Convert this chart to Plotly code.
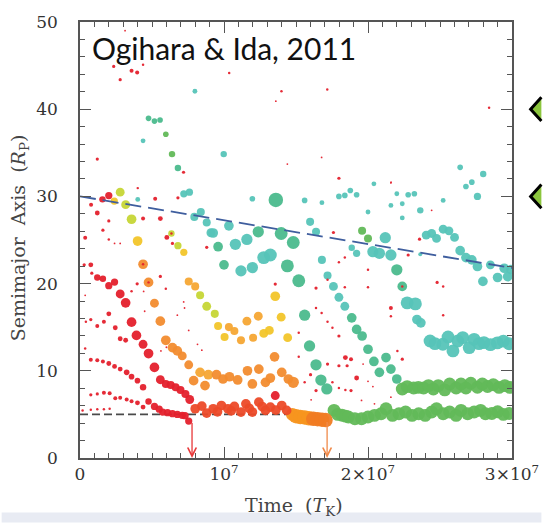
import numpy as np
import plotly.graph_objects as go

# ---------------- data (time in units of 1e6 T_K, semimajor axis in R_P, relative mass) -------------
red = [
    (3.13, 49.0, 0.0014), (2.34, 44.9, 0.011), (2.79, 43.38, 0.011), (3.58, 44.41, 0.021),
    (3.97, 44.22, 0.021), (4.38, 45.09, 0.005), (10.36, 44.14, 0.005), (1.2, 34.28, 0.011),
    (7.19, 32.77, 0.011), (5.22, 29.73, 0.021), (6.8, 29.84, 0.011), (2.0, 30.1, 0.125),
    (1.56, 29.66, 0.088), (0.77, 29.05, 0.021), (1.2, 28.1, 0.037), (2.0, 27.19, 0.011),
    (4.38, 27.46, 0.021), (5.58, 27.46, 0.037), (0.36, 25.26, 0.021), (1.59, 26.13, 0.011),
    (2.0, 25.07, 0.005), (2.4, 24.61, 0.0014), (2.79, 24.61, 0.0014), (6.03, 25.3, 0.037),
    (6.42, 24.61, 0.011), (8.8, 24.16, 0.011), (0.29, 22.15, 0.011), (0.75, 22.15, 0.037),
    (0.82, 21.2, 0.011), (1.2, 20.7, 0.088), (1.59, 20.55, 0.088), (2.0, 19.76, 0.125),
    (2.4, 20.17, 0.125), (3.97, 19.98, 0.011), (5.58, 20.82, 0.011), (5.96, 19.42, 0.005),
    (2.79, 18.81, 0.23), (3.17, 17.79, 0.30), (3.58, 19.11, 0.005), (0.36, 18.66, 0.0014),
    (3.58, 15.58, 0.30), (3.92, 14.06, 0.30), (4.38, 13.04, 0.23), (4.76, 11.98, 0.30),
    (5.17, 10.39, 0.30), (5.58, 8.98, 0.23), (5.96, 8.49, 0.17), (6.3, 8.38, 0.17),
    (6.64, 8.11, 0.17), (6.98, 7.81, 0.17), (7.32, 7.35, 0.17), (7.62, 6.71, 0.23),
    (0.41, 15.62, 0.005), (0.75, 15.88, 0.011), (1.2, 15.13, 0.021), (1.66, 15.62, 0.021),
    (2.0, 16.53, 0.037), (2.45, 14.94, 0.037), (2.79, 13.68, 0.037), (3.17, 13.5, 0.037),
    (0.36, 12.55, 0.005),
    (0.75, 11.26, 0.021), (1.2, 11.22, 0.021), (1.59, 11.07, 0.021), (2.0, 10.84, 0.037),
    (2.4, 10.5, 0.037), (2.79, 10.2, 0.037), (3.24, 9.82, 0.059), (3.58, 9.33, 0.059),
    (3.99, 8.87, 0.059), (4.38, 8.11, 0.088),
    (0.75, 7.24, 0.011), (1.2, 7.35, 0.011), (1.66, 7.47, 0.021), (2.06, 7.43, 0.021),
    (2.45, 6.86, 0.021), (2.79, 6.9, 0.021), (3.24, 6.71, 0.021), (3.58, 6.52, 0.021),
    (3.99, 6.33, 0.037), (4.38, 5.84, 0.037),
    (4.76, 6.48, 0.088), (5.17, 5.91, 0.125), (5.5, 5.6, 0.125), (5.74, 5.27, 0.125),
    (6.08, 5.19, 0.125), (6.42, 5.08, 0.125), (6.76, 5.0, 0.125), (7.1, 4.89, 0.125),
    (7.3, 4.85, 0.125), (7.55, 4.24, 0.125),
    (0.18, 5.45, 0.005), (0.75, 5.53, 0.005), (1.2, 5.6, 0.005), (1.66, 5.6, 0.005), (2.06, 5.64, 0.005),
    (6.76, 16.38, 0.0014), (7.55, 14.63, 0.0014), (8.16, 13.04, 0.0014), (8.46, 12.36, 0.0014),
    (5.62, 12.28, 0.0014), (4.49, 16.83, 0.0014), (7.2, 17.9, 0.0014), (7.26, 17.2, 0.0014),
    (6.0, 12.7, 0.0014), (4.42, 19.1, 0.0014),
    (13.56, 7.16, 0.23),
    (16.39, 17.2, 0.005), (16.78, 16.64, 0.005), (17.19, 15.62, 0.005), (17.53, 14.94, 0.005),
    (17.98, 13.99, 0.011), (15.19, 14.37, 0.005), (15.19, 11.6, 0.005), (16.01, 9.55, 0.011),
    (15.6, 8.68, 0.005), (16.05, 6.67, 0.0014), (16.39, 7.73, 0.011), (17.19, 10.77, 0.011),
    (17.98, 10.58, 0.011), (18.43, 11.52, 0.037), (18.55, 10.58, 0.011), (17.53, 8.68, 0.005),
    (18.43, 7.81, 0.005), (17.98, 8.03, 0.005),
    (21.59, 17.21, 0.021), (21.59, 16.26, 0.005), (25.22, 16.38, 0.005), (18.82, 11.33, 0.021),
    (19.21, 9.17, 0.037), (18.82, 7.73, 0.011), (22.38, 11.33, 0.011), (22.04, 12.28, 0.005),
    (19.66, 10.77, 0.0014), (20.0, 8.79, 0.0014), (20.34, 8.19, 0.0014), (20.45, 6.21, 0.0014),
    (19.55, 6.6, 0.0014), (21.59, 6.97, 0.0014),
    (17.98, 32.08, 0.011), (17.6, 25.86, 0.011), (18.39, 22.98, 0.005), (17.98, 22.45, 0.005),
    (13.56, 19.95, 0.011), (16.39, 19.49, 0.011), (17.19, 20.44, 0.005), (18.39, 19.57, 0.005),
    (21.59, 31.55, 0.0014), (24.42, 28.4, 0.0014), (23.58, 25.1, 0.011), (22.79, 23.28, 0.011),
    (20.0, 21.58, 0.005), (20.0, 19.57, 0.005), (24.8, 20.14, 0.011), (25.22, 19.68, 0.005),
    (28.41, 40.16, 0.005), (17.17, 42.25, 0.005), (16.78, 34.47, 0.0014), (21.6, 31.63, 0.0014),
    (13.99, 42.06, 0.005), (13.6, 40.92, 0.0014), (14.4, 33.71, 0.0014), (4.01, 30.95, 0.005),
    (4.38, 22.22, 0.005), (4.76, 20.14, 0.005), (6.35, 25.75, 0.005), (22.38, 19.68, 0.005),
]

red_orange = [
    (8.0, 5.65, 0.30), (8.46, 5.95, 0.30), (8.8, 5.15, 0.30), (9.25, 5.65, 0.30),
    (9.82, 6.02, 0.30), (10.27, 5.65, 0.30), (10.72, 5.91, 0.30), (11.18, 5.27, 0.30),
    (11.52, 6.21, 0.30), (11.97, 5.27, 0.30), (12.42, 6.4, 0.30), (12.88, 5.46, 0.30),
    (13.22, 5.84, 0.30), (14.01, 6.02, 0.30), (14.35, 5.46, 0.30), (9.55, 5.3, 0.30),
    (10.5, 5.4, 0.30), (11.75, 5.7, 0.30), (12.65, 5.9, 0.30), (13.6, 5.5, 0.30),
]

orange = [
    (4.38, 22.22, 0.30), (4.76, 20.14, 0.30), (5.17, 17.75, 0.23), (5.58, 15.69, 0.30),
    (5.96, 13.5, 0.30), (6.42, 12.66, 0.30), (6.76, 12.28, 0.30), (7.1, 11.71, 0.23),
    (7.55, 10.69, 0.23), (7.89, 8.87, 0.30), (8.68, 8.3, 0.30), (9.48, 9.55, 0.30),
    (9.93, 9.06, 0.30), (10.38, 9.32, 0.30), (10.95, 8.95, 0.30), (11.63, 10.0, 0.30),
    (11.97, 8.49, 0.30), (12.42, 10.2, 0.30), (12.88, 8.68, 0.30), (13.22, 9.17, 0.30),
    (14.01, 9.82, 0.30), (14.47, 9.06, 0.30), (14.81, 8.68, 0.47), (13.51, 11.6, 0.30),
]

light_orange = [
    (8.34, 9.82, 0.30), (8.91, 9.55, 0.30), (7.55, 20.25, 0.17), (8.0, 19.68, 0.17),
    (10.34, 15.01, 0.17), (10.72, 14.56, 0.17), (11.18, 13.5, 0.17), (11.59, 15.69, 0.23),
    (12.02, 13.8, 0.17), (12.38, 16.26, 0.23),
]

yellow = [
    (2.38, 29.47, 0.125), (4.0, 24.88, 0.30), (7.21, 23.59, 0.125), (9.59, 15.13, 0.17),
    (10.04, 13.87, 0.17), (12.76, 14.29, 0.23), (13.15, 14.63, 0.23), (13.97, 16.15, 0.23),
    (14.42, 13.8, 0.23), (13.56, 18.55, 0.30),
]

yellow_green = [
    (2.79, 30.49, 0.23), (3.17, 29.05, 0.23), (3.58, 27.38, 0.30), (6.35, 25.75, 0.088),
    (6.8, 24.35, 0.125), (8.34, 18.66, 0.17), (8.8, 17.4, 0.23), (9.36, 16.53, 0.17),
]

inner_merger_early = [  # lighter orange part of the inner-edge cluster
    (14.75, 5.0, 0.7), (15.0, 4.8, 1.0), (15.3, 4.7, 1.0), (15.6, 4.65, 1.0), (15.9, 4.55, 1.0),
]
inner_merger_late = [
    (16.2, 4.5, 1.0), (16.5, 4.45, 1.0), (16.8, 4.4, 1.0), (17.05, 4.35, 1.0),
]

green = [
    (5.96, 37.13, 0.059), (6.39, 34.85, 0.088), (19.59, 26.05, 0.17), (20.0, 25.18, 0.17),
    # innermost resonant chain member
    (17.64, 5.46, 0.7), (17.9, 5.0, 0.7), (18.2, 4.9, 0.7), (18.45, 4.8, 0.7), (18.64, 4.7, 0.7),
    (19.09, 4.5, 0.7), (19.55, 4.5, 0.7), (20.0, 4.7, 0.7), (20.45, 4.89, 0.7), (20.91, 5.08, 0.7),
    (21.25, 5.65, 0.7), (21.7, 4.89, 0.7), (22.15, 5.08, 0.7), (22.61, 5.27, 0.7), (23.06, 4.89, 0.7),
    (23.52, 5.08, 0.7), (23.97, 4.89, 0.7), (24.42, 5.27, 0.7), (24.76, 5.65, 0.7), (25.22, 5.08, 0.7),
    (25.67, 5.27, 0.7), (26.12, 4.89, 0.7), (26.46, 5.46, 0.7), (26.92, 5.08, 0.7), (27.37, 5.27, 0.7),
    (27.82, 5.46, 0.7), (28.16, 5.08, 0.7), (28.6, 5.1, 0.7), (29.0, 5.3, 0.7), (29.4, 5.0, 0.7),
    (29.8, 5.1, 0.7),
    # second chain member
    (22.38, 7.92, 0.7), (22.72, 8.19, 0.7), (23.17, 8.03, 0.7), (23.5, 8.1, 0.7), (23.86, 8.03, 0.7),
    (24.2, 8.3, 0.7), (24.54, 7.92, 0.7), (24.88, 8.3, 0.7), (25.33, 7.81, 0.7), (25.67, 8.49, 0.7),
    (26.12, 8.03, 0.7), (26.46, 8.49, 0.7), (26.8, 8.03, 0.7), (27.14, 8.57, 0.7), (27.6, 8.11, 0.7),
    (27.94, 8.49, 0.7), (28.3, 8.2, 0.7), (28.7, 8.4, 0.7), (29.1, 8.1, 0.7), (29.5, 8.3, 0.7),
    (29.85, 8.1, 0.7),
]

teal_green = [
    (4.76, 38.95, 0.059), (5.17, 38.64, 0.059), (5.56, 38.76, 0.059), (6.8, 33.26, 0.088),
    (13.6, 29.6, 1.0), (12.38, 25.94, 0.47), (13.97, 25.75, 0.7), (14.81, 24.72, 0.7),
    (9.59, 24.23, 0.30), (10.0, 22.15, 0.30), (14.4, 22.03, 0.7), (15.19, 20.33, 0.7),
    (15.6, 16.38, 0.47), (15.94, 12.85, 0.47), (16.39, 10.69, 0.47), (16.73, 8.94, 0.47),
    (17.14, 7.92, 0.47), (22.0, 21.58, 0.47), (22.38, 19.68, 0.30),
    (18.87, 16.07, 0.30), (19.21, 14.75, 0.30), (19.59, 13.99, 0.30), (20.0, 12.47, 0.30),
    (20.41, 11.07, 0.30), (20.79, 9.82, 0.30), (21.25, 11.52, 0.30), (21.59, 10.2, 0.30),
    (22.0, 9.06, 0.30),
]

teal = [
    (7.98, 42.06, 0.037), (4.38, 36.37, 0.037), (9.98, 34.85, 0.088), (4.01, 29.65, 0.037),
    (7.21, 30.3, 0.125), (7.6, 30.49, 0.125), (7.94, 27.65, 0.17), (8.39, 28.21, 0.17),
    (8.8, 27.0, 0.17), (9.09, 25.83, 0.23), (9.25, 25.8, 0.30), (10.34, 26.62, 0.30),
    (10.79, 24.5, 0.47), (11.59, 25.07, 0.47), (12.76, 22.98, 0.7), (13.22, 23.28, 0.7),
    (11.18, 21.46, 0.47), (11.97, 21.84, 0.47), (11.97, 29.73, 0.059), (15.6, 29.54, 0.059),
    (16.8, 29.28, 0.037), (17.98, 30.0, 0.059), (18.39, 30.11, 0.059), (18.77, 30.68, 0.059),
    (15.98, 27.08, 0.17), (16.39, 25.94, 0.17), (16.8, 22.72, 0.17), (17.19, 20.93, 0.17),
    (17.6, 19.68, 0.23), (17.98, 18.43, 0.23), (18.39, 17.4, 0.23),
    (26.4, 33.33, 0.059), (28.0, 32.57, 0.088), (26.8, 31.13, 0.059), (27.21, 31.63, 0.059),
    (27.6, 30.0, 0.125), (19.21, 30.19, 0.059), (20.41, 31.44, 0.037), (22.0, 30.3, 0.037),
    (22.79, 30.19, 0.059), (23.22, 30.3, 0.059), (21.59, 28.97, 0.037), (22.38, 29.16, 0.037),
    (20.0, 28.21, 0.037), (23.63, 28.4, 0.088), (25.22, 29.54, 0.037), (22.38, 27.53, 0.037),
    (21.2, 25.26, 0.47), (24.04, 25.56, 0.23), (24.42, 25.75, 0.23), (24.76, 25.18, 0.23),
    (25.22, 26.24, 0.23), (25.62, 26.05, 0.23), (26.01, 25.3, 0.23), (18.87, 24.12, 0.088),
    (19.21, 23.47, 0.125), (20.34, 23.66, 0.47), (20.79, 23.47, 0.47), (21.59, 23.28, 0.47),
    (23.63, 23.36, 0.021), (26.4, 23.78, 0.30), (26.8, 22.98, 0.30), (27.21, 22.72, 0.30),
    (27.6, 21.96, 0.30), (27.98, 20.25, 0.30), (28.5, 22.15, 0.23), (29.0, 20.7, 0.30),
    (29.46, 21.76, 0.30), (29.93, 21.6, 0.30), (29.7, 20.8, 0.30),
    (22.72, 17.79, 0.7), (23.29, 17.67, 0.7), (23.4, 15.88, 0.30), (23.67, 15.5, 0.30),
    # outermost chain member
    (24.31, 13.42, 0.7), (24.65, 13.12, 0.7), (25.2, 13.04, 0.7), (25.56, 13.87, 0.7),
    (25.9, 12.28, 0.7), (26.24, 13.42, 0.7), (26.58, 13.8, 0.7), (27.03, 12.66, 0.7),
    (27.37, 13.61, 0.7), (27.71, 13.12, 0.7), (28.05, 13.23, 0.7), (28.5, 13.0, 0.7),
    (28.98, 13.2, 0.7), (29.4, 13.4, 0.7), (29.8, 13.1, 0.7),
]

# reference lines
migration_t = [0.0, 30.0]          # 1e6 T_K
migration_a = [30.0, 21.8]         # R_P
inner_edge_a = 5.0
inner_edge_t = [0.0, 14.5]
arrow_t = [7.78, 17.16]            # planets falling onto the host
arrow_a = [4.2, 4.3]
marker_a = [40, 30]                # slide bullet markers at right edge

x_tickvals = [0, 1e7, 2e7, 3e7]
x_ticktext = ["0", "10<sup>7</sup>", "2×10<sup>7</sup>", "3×10<sup>7</sup>"]
y_tickvals = [0, 10, 20, 30, 40, 50]

T_UNIT = 1e6
W, H = 551, 523
ML, MR, MT, MB = 80, 30, 18, 65
PW, PH = W - ML - MR, H - MT - MB   # plot area in px


def px_x(px):   # window pixel -> paper x
    return (px - ML) / PW


def px_y(py):   # window pixel -> paper y
    return (H - MB - py) / PH


def size_of(m):
    return np.maximum(14.5 * np.cbrt(np.asarray(m)), 1.8)


groups = [
    (teal, "#56c4b8"),
    (teal_green, "#4bbb8d"),
    (green, "#62b958"),
    (yellow_green, "#c6d636"),
    (yellow, "#f2c52a"),
    (light_orange, "#f5a634"),
    (orange, "#f28c2f"),
    (inner_merger_early, "#f7951f"),
    (inner_merger_late, "#f07b23"),
    (red_orange, "#ec4a28"),
    (red, "#e4202c"),
]

fig = go.Figure()

# inner edge (dashed black)
fig.add_trace(go.Scatter(
    x=np.array(inner_edge_t) * T_UNIT, y=[inner_edge_a, inner_edge_a], mode="lines",
    line=dict(color="#4a4a4a", width=1.6, dash="8px,4px"), hoverinfo="skip", showlegend=False))

for data, color in groups:
    arr = np.array(data)
    fig.add_trace(go.Scatter(
        x=arr[:, 0] * T_UNIT, y=arr[:, 1], mode="markers",
        marker=dict(size=size_of(arr[:, 2]), color=color, line=dict(width=0), opacity=0.95),
        showlegend=False, hoverinfo="skip"))

# migration trend (dashed blue)
fig.add_trace(go.Scatter(
    x=np.array(migration_t) * T_UNIT, y=migration_a, mode="lines",
    line=dict(color="#3f5e9e", width=1.8, dash="16px,7px"), hoverinfo="skip", showlegend=False))

arrow_colors = ["#e8393a", "#f08a4a"]
for t, a, c in zip(arrow_t, arrow_a, arrow_colors):
    fig.add_annotation(x=t * T_UNIT, y=0, ax=t * T_UNIT, ay=a, xref="x", yref="y",
                       axref="x", ayref="y", showarrow=True, arrowhead=5, arrowsize=1.3,
                       arrowwidth=1.3, arrowcolor=c, text="")

axis_common = dict(showline=True, linecolor="#555555", linewidth=1.5, mirror="allticks",
                   ticks="inside", ticklen=11, tickwidth=1.3, tickcolor="#555555",
                   showgrid=False, zeroline=False,
                   tickfont=dict(family="DejaVu Serif", size=17, color="#333333"))

fig.update_xaxes(range=[0, 3e7], tickvals=x_tickvals, ticktext=x_ticktext, ticklabelstandoff=0,
                 minor=dict(ticks="inside", ticklen=5, dtick=1e6, tickcolor="#555555", tickwidth=1.1),
                 **axis_common)
fig.update_yaxes(range=[0, 50], tickvals=y_tickvals, ticklabelstandoff=17,
                 minor=dict(ticks="inside", ticklen=5, dtick=2, tickcolor="#555555", tickwidth=1.1),
                 **axis_common)

fig.add_annotation(text="Time  (<i>T</i><sub>K</sub>)", x=0.495, y=-0.112, xref="paper", yref="paper",
                   showarrow=False, font=dict(family="DejaVu Serif", size=19, color="#444444"),
                   xanchor="center", yanchor="middle")
fig.add_annotation(text="Semimajor  Axis  (<i>R</i><sub>P</sub>)", x=-0.14, y=0.505, xref="paper",
                   yref="paper", textangle=-90, showarrow=False,
                   font=dict(family="DejaVu Serif", size=19, color="#444444"),
                   xanchor="center", yanchor="middle")
fig.add_annotation(text="Ogihara &amp; Ida, 2011", x=0.022, y=0.94, xref="paper", yref="paper",
                   showarrow=False, font=dict(family="Lato", size=30, color="#111111"),
                   xanchor="left", yanchor="middle")

# slide bullet diamonds, cut by the right edge of the slide: only the left part shows
shapes = []
tip_px, edge_px, half_px = 540, W, 12
for a in marker_a:
    cy = a / 50
    x_tip, x_edge = px_x(tip_px), px_x(edge_px)
    dy = half_px / PH
    shapes.append(dict(type="path", xref="paper", yref="paper",
                       path=f"M{x_tip},{cy} L{x_edge},{cy+dy} L{x_edge},{cy-dy} Z",
                       fillcolor="#8cc63e", line=dict(width=0)))
    shapes.append(dict(type="path", xref="paper", yref="paper",
                       path=f"M{x_edge},{cy+dy} L{x_tip},{cy} L{x_edge},{cy-dy}",
                       fillcolor="rgba(0,0,0,0)", line=dict(color="#000000", width=3)))
# light strip at the bottom of the slide
shapes.append(dict(type="rect", xref="paper", yref="paper", x0=px_x(0), x1=px_x(W),
                   y0=px_y(513), y1=px_y(H), fillcolor="#e8ebf3", line=dict(width=0), layer="below"))
fig.update_layout(shapes=shapes)

fig.update_layout(width=W, height=H, margin=dict(l=ML, r=MR, t=MT, b=MB),
                  plot_bgcolor="white", paper_bgcolor="white", showlegend=False)

# remove the browser's default body margin; if the visible viewport is not exactly
# 551 x 523, scale the figure (and its margins) so it still fills the whole window
fit_js = (
    "document.documentElement.style.overflow='hidden';"
    "document.body.style.margin='0px';document.body.style.overflow='hidden';"
    "var gd=document.querySelector('.plotly-graph-div');"
    "var w=window.innerWidth||document.documentElement.clientWidth;"
    "var h=window.innerHeight||document.documentElement.clientHeight;"
    "if(gd&&w>100&&h>100&&(Math.abs(w-551)>1||Math.abs(h-523)>1)){"
    "var sx=w/551,sy=h/523;"
    "Plotly.relayout(gd,{width:w,height:h,'margin.l':80*sx,'margin.r':30*sx,"
    "'margin.t':18*sy,'margin.b':65*sy});}"
)
fig.write_html("out.html", config={"displayModeBar": False}, post_script=fit_js)
